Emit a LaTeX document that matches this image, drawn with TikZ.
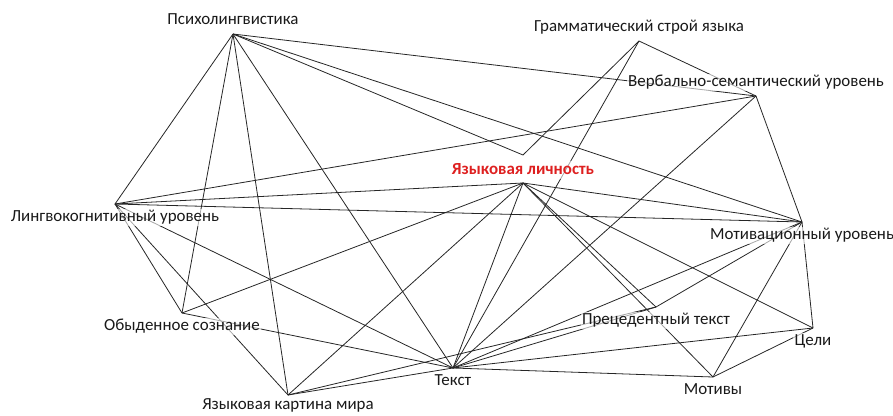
\documentclass[tikz,border=0pt]{standalone}
\usepackage{fontspec}
\setmainfont{Carlito}
\usetikzlibrary{positioning}

\definecolor{keyred}{RGB}{222,32,32}

\begin{document}
\begin{tikzpicture}[x=0.75pt, y=-0.75pt, font=\fontsize{12.7}{15}\selectfont,
    link/.style={black!85, line width=0.6pt},
    lbl/.style={fill=white, fill opacity=0.6, text opacity=1, inner sep=1pt,
                text height=8.5pt, text depth=2.5pt, text=black!90}]

    \useasboundingbox (0,0) rectangle (893,415);

    % points
    \coordinate (p) at (233,34);
    \coordinate (g) at (639,41);
    \coordinate (v) at (756,96);
    \coordinate (l) at (115,204);
    \coordinate (y) at (523,183);
    \coordinate (yt) at (523,155);
    \coordinate (m) at (802,222);
    \coordinate (pt) at (656,307);
    \coordinate (c) at (813,328);
    \coordinate (mo) at (713,377);
    \coordinate (t) at (453,368);
    \coordinate (o) at (182,313);
    \coordinate (k) at (288,395);

    % links
    \draw [link] (p) -- (l);
    \draw [link] (p) -- (o);
    \draw [link] (p) -- (k);
    \draw [link] (p) -- (t);
    \draw [link] (p) -- (v);
    \draw [link] (p) -- (m);
    \draw [link] (p) -- (yt);
    \draw [link] (g) -- (yt);
    \draw [link] (g) -- (t);
    \draw [link] (g) -- (v);
    \draw [link] (v) -- (l);
    \draw [link] (v) -- (t);
    \draw [link] (v) -- (m);
    \draw [link] (l) -- (y);
    \draw [link] (l) -- (m);
    \draw [link] (l) -- (o);
    \draw [link] (l) -- (k);
    \draw [link] (l) -- (t);
    \draw [link] (y) -- (o);
    \draw [link] (y) -- (k);
    \draw [link] (y) -- (t);
    \draw [link] (y) -- (pt);
    \draw [link] (y) -- (mo);
    \draw [link] (y) -- (m);
    \draw [link] (y) -- (c);
    \draw [link] (o) -- (t);
    \draw [link] (k) -- (t);
    \draw [link] (k) -- (pt);
    \draw [link] (t) -- (mo);
    \draw [link] (t) -- (c);
    \draw [link] (t) -- (pt);
    \draw [link] (t) -- (m);
    \draw [link] (m) -- (c);
    \draw [link] (m) -- (mo);
    \draw [link] (m) -- (pt);
    \draw [link] (c) -- (mo);

    % labels
    \node [lbl, above=3.5pt of p] (pl) {Психолингвистика};
    \node [lbl, above=3.5pt of g] (gl) {Грамматический строй языка};
    \node [lbl, above=3.5pt of v] (vl) {Вербально-семантический уровень};
    \node [lbl, below=3.5pt of l] (ll) {Лингвокогнитивный уровень};
    \node [lbl, above=3pt of y, text=keyred,
           font=\fontsize{12.7}{15}\selectfont\bfseries] (yl) {Языковая личность};
    \node [lbl, below=3.5pt of m] (ml) {Мотивационный уровень};
    \node [lbl, below=3.5pt of pt] (ptl) {Прецедентный текст};
    \node [lbl, below=3.5pt of c] (cl) {Цели};
    \node [lbl, below=3.5pt of mo] (mol) {Мотивы};
    \node [lbl, below=3.5pt of t] (tl) {Текст};
    \node [lbl, below=3.5pt of o] (ol) {Обыденное сознание};
    \node [lbl, below=1.5pt of k] (kl) {Языковая картина мира};

\end{tikzpicture}
\end{document}
